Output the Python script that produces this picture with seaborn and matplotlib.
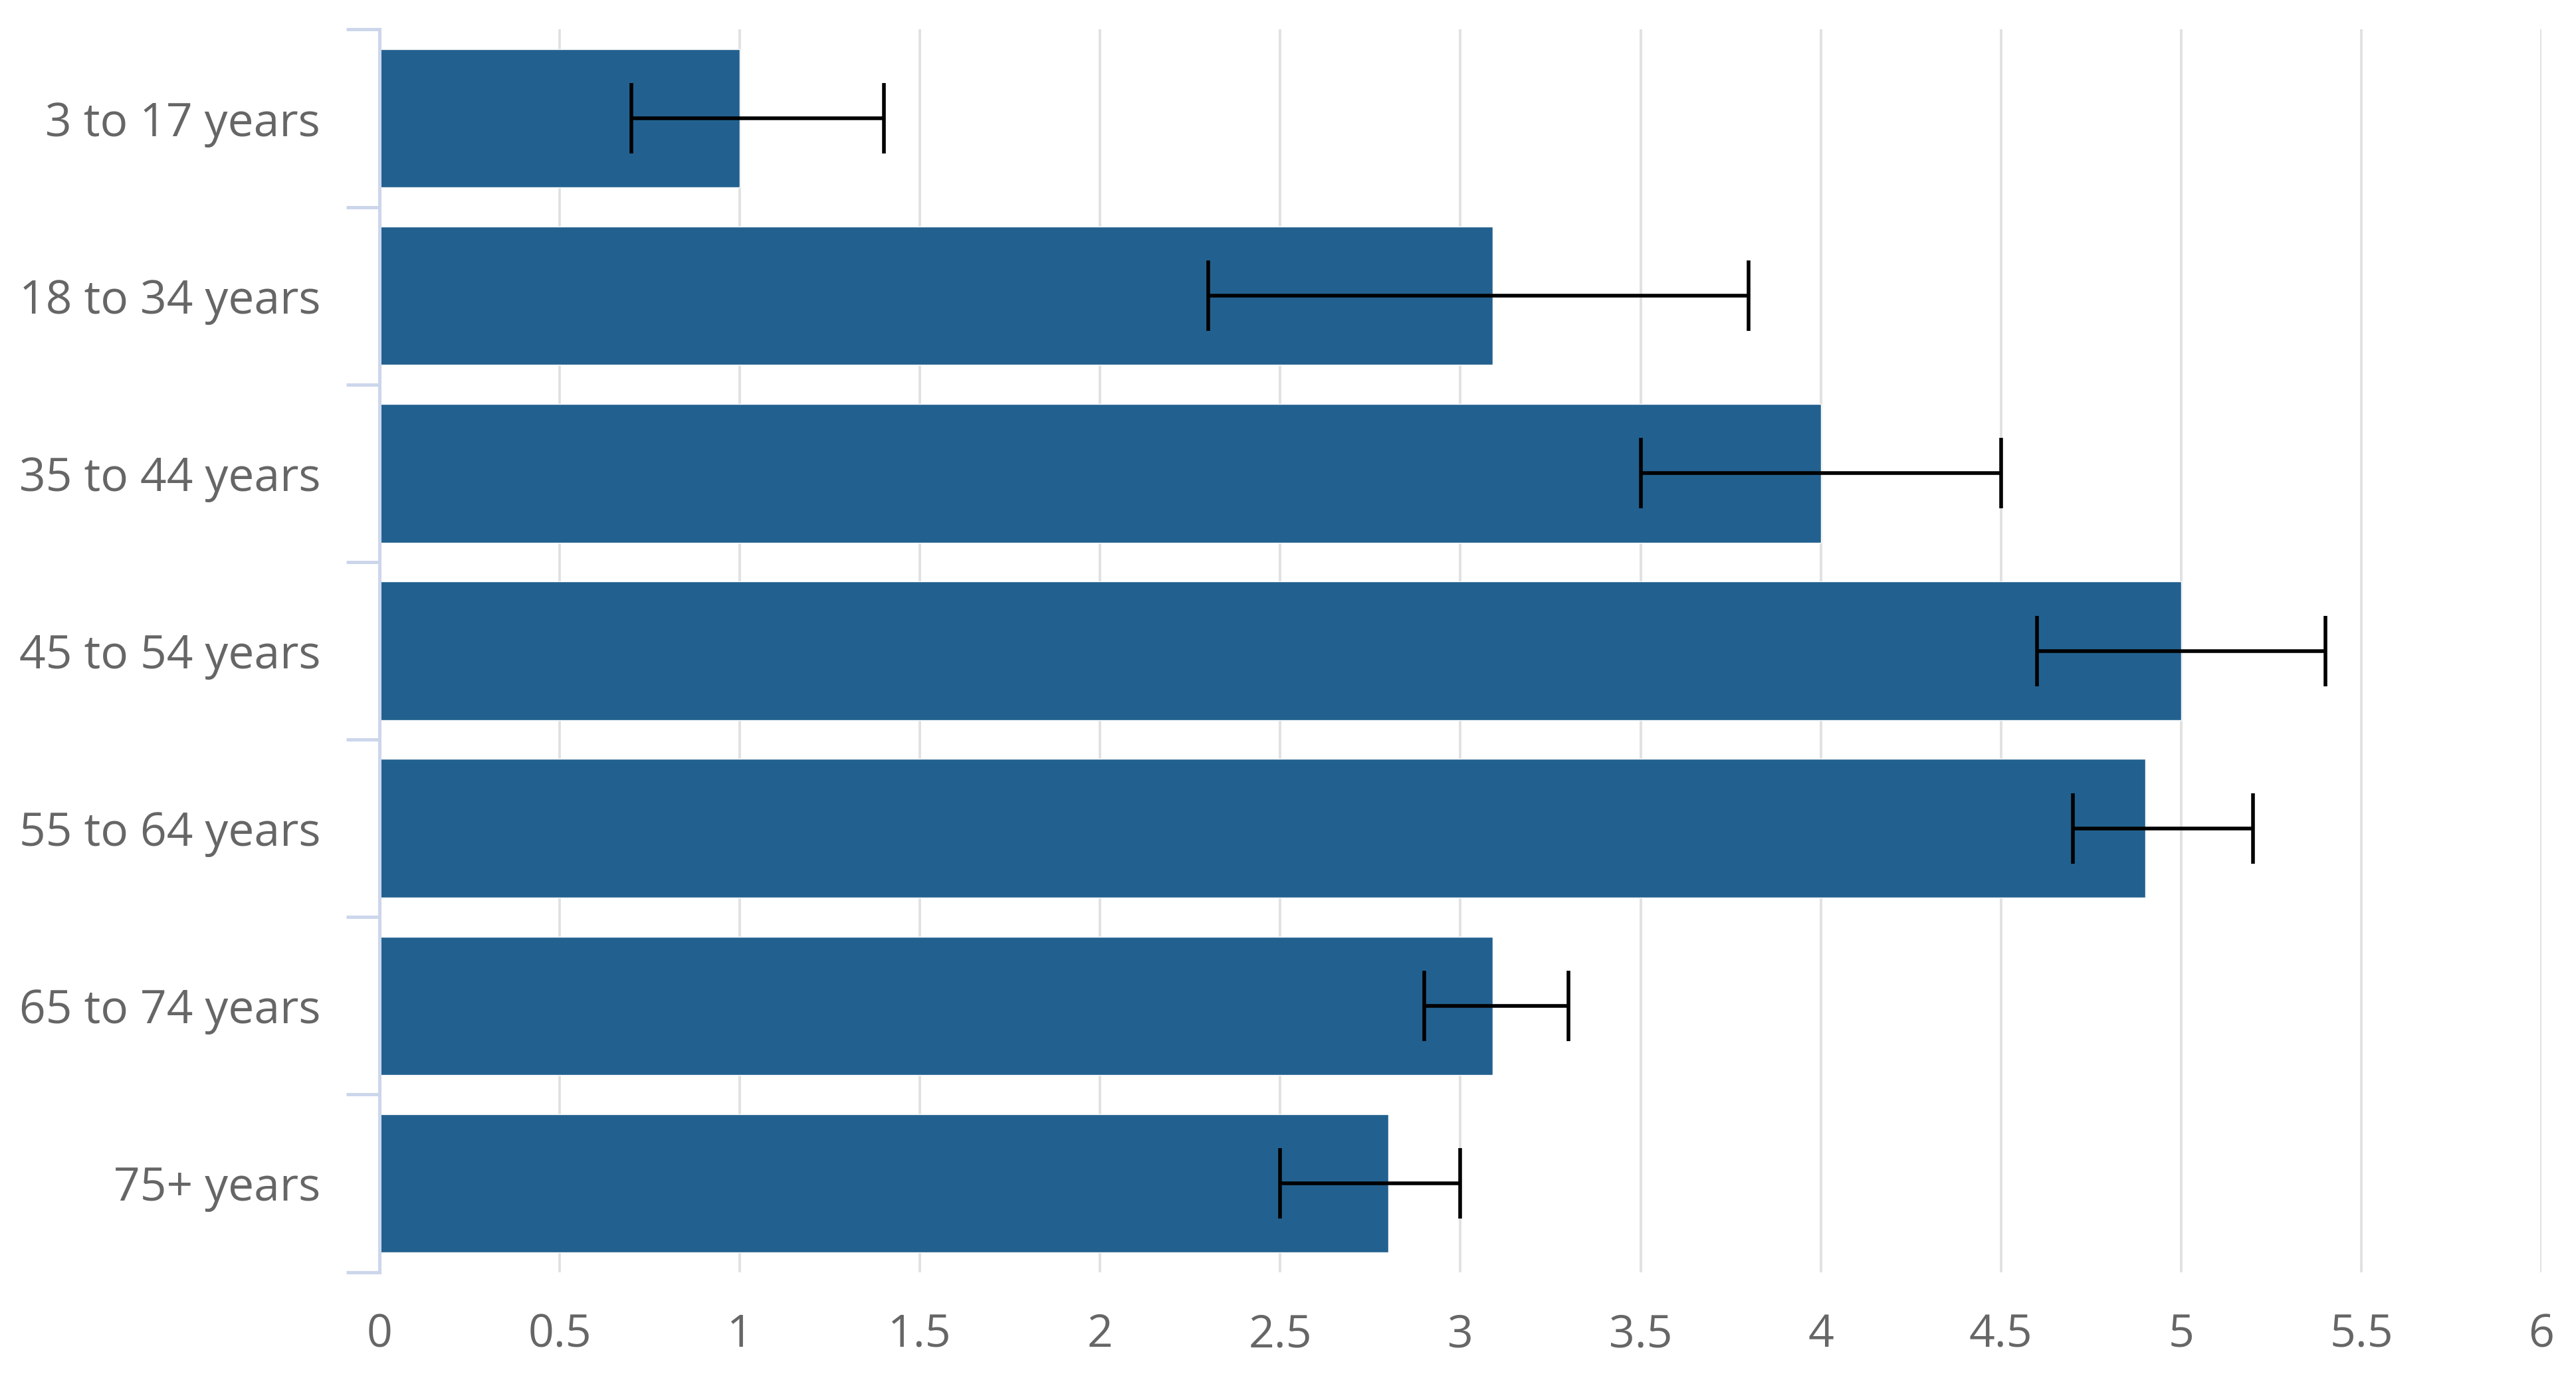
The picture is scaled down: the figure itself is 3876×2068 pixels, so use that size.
import numpy as np
import pandas as pd
import seaborn as sns
import matplotlib.pyplot as plt

# data
categories = ["3 to 17 years", "18 to 34 years", "35 to 44 years", "45 to 54 years",
              "55 to 64 years", "65 to 74 years", "75+ years"]
values = [1.0, 3.09, 4.0, 5.0, 4.9, 3.09, 2.8]
err_low = [0.7, 2.3, 3.5, 4.6, 4.7, 2.9, 2.5]
err_high = [1.4, 3.8, 4.5, 5.4, 5.2, 3.3, 3.0]
x_ticks = [0, 0.5, 1, 1.5, 2, 2.5, 3, 3.5, 4, 4.5, 5, 5.5, 6]

df = pd.DataFrame({"group": categories, "value": values})

sns.set_theme(style="white")
plt.rcParams['font.family'] = ['Open Sans', 'DejaVu Sans']

fig = plt.figure(figsize=(38.76, 20.68), dpi=100)
ax = fig.add_axes([0.1473, 0.0742, 0.8393, 0.9043])

sns.barplot(data=df, x="value", y="group", orient="h", color="#22618f",
            saturation=1, width=0.78, ax=ax, zorder=2)

# error bars
pos = np.arange(len(categories))
vals = np.array(values)
xerr = [vals - np.array(err_low), np.array(err_high) - vals]
ax.errorbar(vals, pos, xerr=xerr, fmt="none", ecolor="black",
            elinewidth=4, capsize=38, capthick=4, zorder=3)

ax.set_xlim(0, 6)
ax.set_ylim(6.5, -0.5)
ax.set_xticks(x_ticks)
ax.set_xticklabels([f"{t:g}" for t in x_ticks])
ax.set_yticks(np.arange(-0.5, 7, 1), minor=True)
ax.set_xlabel("")
ax.set_ylabel("")

ax.set_axisbelow(True)
ax.xaxis.grid(True, color="#e1e1e1", linewidth=2.8)
ax.yaxis.grid(False)

for s in ["top", "right", "bottom"]:
    ax.spines[s].set_visible(False)
ax.spines["left"].set_color("#ccd6eb")
ax.spines["left"].set_linewidth(3.6)

ax.tick_params(axis="x", length=0, pad=44, labelsize=49, labelcolor="#666666")
ax.tick_params(axis="y", which="major", length=0, pad=64, labelsize=50, labelcolor="#666666")
ax.tick_params(axis="y", which="minor", length=36, width=3.6, color="#ccd6eb", left=True)

fig.savefig("out.png", dpi=100)
